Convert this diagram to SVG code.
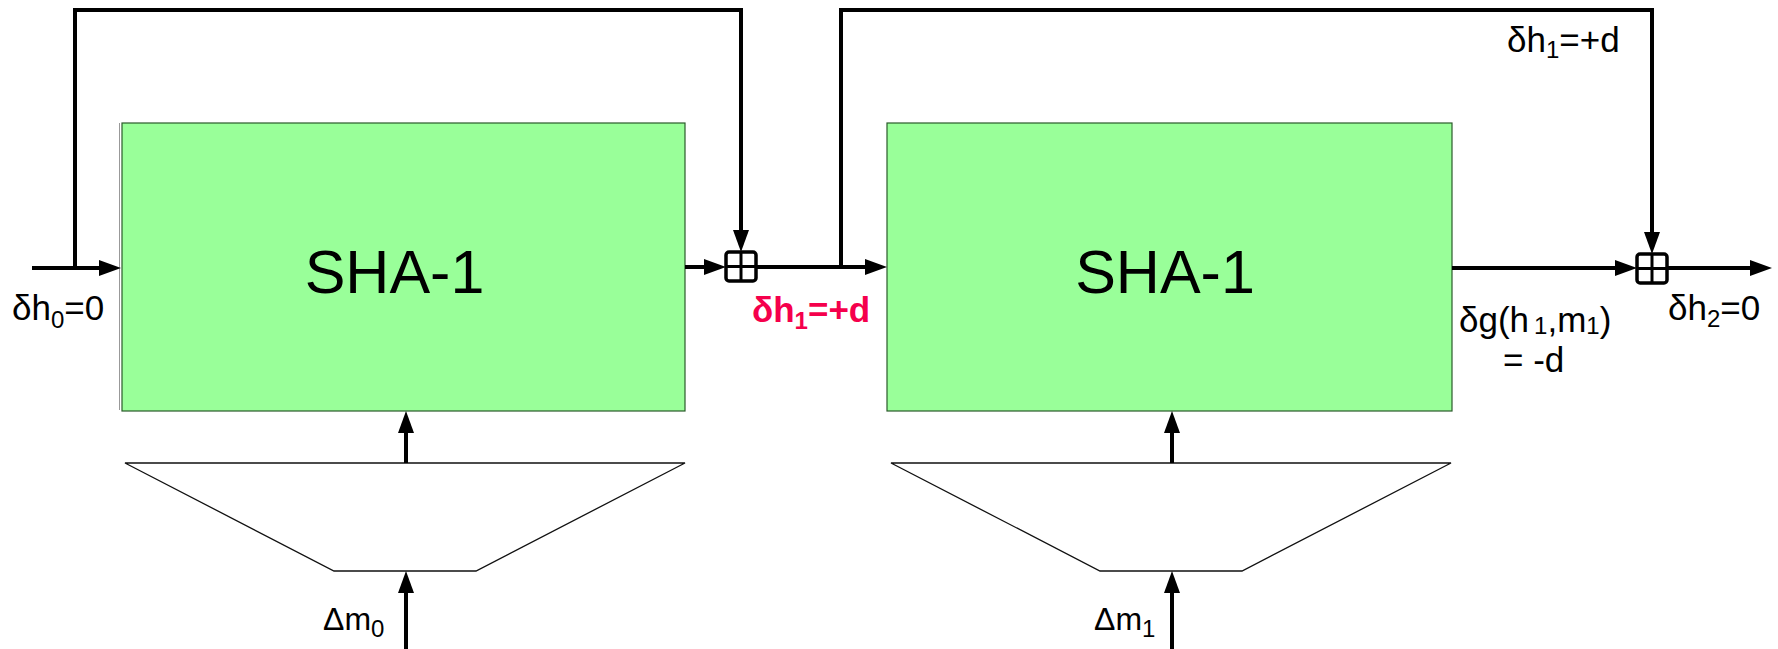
<svg xmlns="http://www.w3.org/2000/svg" width="1778" height="649" viewBox="0 0 1778 649">
<defs>
<style>
.box{fill:#99ff99;stroke:#2a5a2a;stroke-width:1.2}
.trap{fill:#fff;stroke:#111;stroke-width:1.3}
.arr{fill:none;stroke:#000;stroke-width:4;marker-end:url(#ah)}
.plus{fill:#fff;stroke:#000;stroke-width:3.5}
.plusx{stroke:#000;stroke-width:3}
.t{font-family:"Liberation Sans",Arial,sans-serif;fill:#000}
.big{font-size:61px}
.lbl{font-size:35px}
.sub{font-size:24px}
.red{fill:#f5004c;font-weight:bold}
</style>
<marker id="ah" markerUnits="userSpaceOnUse" markerWidth="24" markerHeight="18" refX="12" refY="8" orient="auto" overflow="visible">
<path d="M0,0 L22,8 L0,16 z" fill="#000"/>
</marker>
</defs>
<rect width="1778" height="649" fill="#fff"/>

<g id="sha1-a">
<line x1="119.5" y1="123" x2="119.5" y2="410" stroke="#999" stroke-width="1"/>
<rect class="box" x="122" y="123" width="563" height="288"/>
<text class="t big" x="394.5" y="293" text-anchor="middle">SHA-1</text>
</g>
<g id="sha1-b">
<rect class="box" x="887" y="123" width="565" height="288"/>
<text class="t big" x="1165" y="293" text-anchor="middle">SHA-1</text>
</g>
<g id="expand-a">
<polygon class="trap" points="125,463 685,463 476,571 334,571"/>
</g>
<g id="expand-b">
<polygon class="trap" points="891,463 1451,463 1242,571 1100,571"/>
</g>
<g id="add-a">
<rect class="plus" x="726" y="252" width="30" height="29" rx="3"/>
<line class="plusx" x1="741" y1="252" x2="741" y2="281"/>
<line class="plusx" x1="726" y1="266.5" x2="756" y2="266.5"/>
</g>
<g id="add-b">
<rect class="plus" x="1637" y="254" width="30" height="29" rx="3"/>
<line class="plusx" x1="1652" y1="254" x2="1652" y2="283"/>
<line class="plusx" x1="1637" y1="268.5" x2="1667" y2="268.5"/>
</g>

<g id="connectors">
<line class="arr" x1="32" y1="268" x2="111" y2="268"/>
<polyline class="arr" points="75,268 75,10 741,10 741,242"/>
<line class="arr" x1="685" y1="267" x2="716" y2="267"/>
<line class="arr" x1="756" y1="267" x2="877" y2="267"/>
<polyline class="arr" points="841,267 841,10 1652,10 1652,244"/>
<line class="arr" x1="1452" y1="268" x2="1627" y2="268"/>
<line class="arr" x1="1667" y1="268" x2="1762" y2="268"/>
<line class="arr" x1="406" y1="463" x2="406" y2="421"/>
<line class="arr" x1="406" y1="649" x2="406" y2="581"/>
<line class="arr" x1="1172" y1="463" x2="1172" y2="421"/>
<line class="arr" x1="1172" y1="649" x2="1172" y2="581"/>
</g>

<g id="labels">
<text class="t lbl" x="12" y="320">δh<tspan class="sub" dy="8">0</tspan><tspan dy="-8">=0</tspan></text>
<text class="t lbl red" x="752" y="322">δh<tspan class="sub" dy="7">1</tspan><tspan dy="-7">=+d</tspan></text>
<text class="t lbl" x="1507" y="52">δh<tspan class="sub" dy="6">1</tspan><tspan dy="-6">=+d</tspan></text>
<text class="t lbl" x="1459" y="332">δg(h<tspan class="sub" dx="5" dy="2">1</tspan><tspan dy="-2">,m</tspan><tspan class="sub" dy="2">1</tspan><tspan dy="-2">)</tspan></text>
<text class="t lbl" x="1503" y="372">= -d</text>
<text class="t lbl" x="1668" y="320">δh<tspan class="sub" dy="7">2</tspan><tspan dy="-7">=0</tspan></text>
<text class="t" style="font-size:32px" x="323" y="630">Δm<tspan class="sub" dy="7">0</tspan></text>
<text class="t" style="font-size:32px" x="1094" y="630">Δm<tspan class="sub" dy="7">1</tspan></text>
</g>
</svg>
